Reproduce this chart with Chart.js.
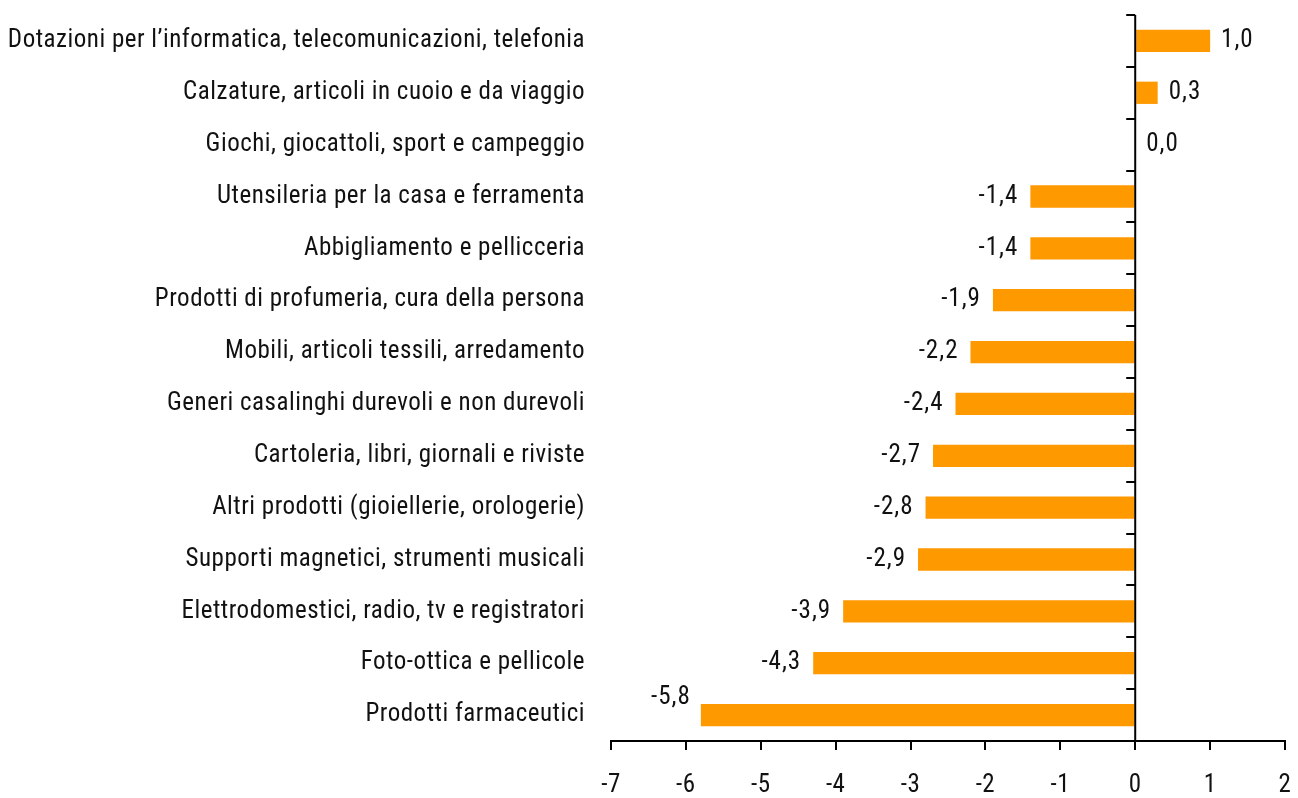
<!DOCTYPE html>
<html>
<head>
<meta charset="utf-8">
<script src="https://cdn.jsdelivr.net/npm/chart.js@4"></script>
<style>
  html, body { margin: 0; padding: 0; background: #fff; }
  canvas { display: block; }
</style>
</head>
<body>
<canvas id="chart-vendite" width="1298" height="798"></canvas>
<script>
var categories = [
    "Dotazioni per l\u2019informatica, telecomunicazioni, telefonia",
    "Calzature, articoli in cuoio e da viaggio",
    "Giochi, giocattoli, sport e campeggio",
    "Utensileria per la casa e ferramenta",
    "Abbigliamento e pellicceria",
    "Prodotti di profumeria, cura della persona",
    "Mobili, articoli tessili, arredamento",
    "Generi casalinghi durevoli e non durevoli",
    "Cartoleria, libri, giornali e riviste",
    "Altri prodotti (gioiellerie, orologerie)",
    "Supporti magnetici, strumenti musicali",
    "Elettrodomestici, radio, tv e registratori",
    "Foto-ottica e pellicole",
    "Prodotti farmaceutici"
];
var variazioni = [1.0, 0.3, 0.0, -1.4, -1.4, -1.9, -2.2, -2.4, -2.7, -2.8, -2.9, -3.9, -4.3, -5.8];
var xMin = -7, xMax = 2;

var FONT = "'Roboto Condensed', 'Liberation Sans', sans-serif";

function fmt(v) {
    return v.toFixed(1).replace('.', ',');
}

// a bit of letter spacing, the source font is a loose narrow face
var spacing = {
    id: 'spacing',
    beforeDraw: function(chart) {
        chart.ctx.letterSpacing = '0.5px';
    }
};

// vertical axis at zero, with tick marks between categories
var zeroAxis = {
    id: 'zeroAxis',
    afterDatasetsDraw: function(chart) {
        var ctx = chart.ctx, area = chart.chartArea;
        var x0 = chart.scales.x.getPixelForValue(0);
        var n = categories.length;
        var step = (area.bottom - area.top) / n;
        ctx.save();
        ctx.strokeStyle = '#000';
        ctx.lineWidth = 2;
        ctx.beginPath();
        ctx.moveTo(x0, area.top);
        ctx.lineTo(x0, area.bottom);
        for (var i = 0; i <= n; i++) {
            var y = Math.round(area.top + i * step);
            ctx.moveTo(x0 - 9, y);
            ctx.lineTo(x0, y);
        }
        ctx.stroke();
        ctx.restore();
    }
};

// value labels next to the bars
var valueLabels = {
    id: 'valueLabels',
    afterDatasetsDraw: function(chart) {
        var ctx = chart.ctx;
        var meta = chart.getDatasetMeta(0);
        ctx.save();
        ctx.font = '25px ' + FONT;
        ctx.letterSpacing = '1px';
        ctx.fillStyle = '#111';
        ctx.textBaseline = 'middle';
        meta.data.forEach(function(bar, i) {
            var v = variazioni[i];
            var y = bar.y;
            if (v >= 0) {
                ctx.textAlign = 'left';
                ctx.fillText(fmt(v), bar.x + 11, y);
            } else if (i === variazioni.length - 1) {
                // last label sits above-left, as in the source
                ctx.textAlign = 'right';
                ctx.fillText(fmt(v), bar.x - 10, y - 17);
            } else {
                ctx.textAlign = 'right';
                ctx.fillText(fmt(v), bar.x - 12, y);
            }
        });
        ctx.restore();
    }
};

var ctx = document.getElementById('chart-vendite').getContext('2d');
var chart = new Chart(ctx, {
    type: 'bar',
    data: {
        labels: categories,
        datasets: [{
            data: variazioni,
            backgroundColor: 'rgb(255, 153, 0)',
            borderWidth: 0,
            categoryPercentage: 1.0,
            barPercentage: 0.43
        }]
    },
    options: {
        indexAxis: 'y',
        responsive: false,
        animation: false,
        layout: { padding: { left: 0, right: 13, top: 15, bottom: 0 } },
        plugins: {
            legend: { display: false },
            tooltip: { enabled: false }
        },
        scales: {
            x: {
                min: xMin,
                max: xMax,
                ticks: {
                    stepSize: 1,
                    padding: 21,
                    color: '#111',
                    font: { family: FONT, size: 25 },
                    callback: function(v) { return String(v); }
                },
                grid: {
                    drawOnChartArea: false,
                    drawTicks: true,
                    tickLength: 9,
                    color: '#000',
                    lineWidth: 2
                },
                border: { display: true, color: '#000', width: 2 },
                afterFit: function(scale) {
                    scale.height = 57;
                    scale.paddingLeft = 0;
                    scale.paddingRight = 0;
                }
            },
            y: {
                ticks: {
                    padding: 26,
                    color: '#111',
                    font: { family: FONT, size: 25 }
                },
                grid: { display: false, drawTicks: false },
                border: { display: false },
                afterFit: function(scale) {
                    scale.width = 611;
                    scale.paddingTop = 0;
                    scale.paddingBottom = 0;
                }
            }
        }
    },
    plugins: [spacing, zeroAxis, valueLabels]
});
</script>
</body>
</html>
